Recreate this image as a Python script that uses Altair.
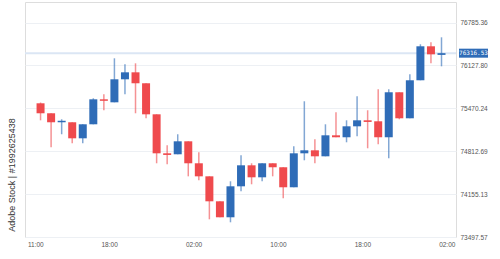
import altair as alt
import pandas as pd

# ---- data ----
open_ = [75548, 75395, 75257, 75257, 75011, 75226, 75609, 75563, 75916, 76023,
         75855, 75379, 74781, 74766, 74965, 74628, 74428, 74045, 73800, 74275,
         74597, 74413, 74628, 74567, 74260, 74781, 74827, 74735, 75057, 75027,
         75195, 75287, 75272, 75027, 75717, 75318, 75901, 76422, 76290]
high = [75560, 75395, 75303, 75257, 75226, 75625, 75686, 76238, 76146, 76161,
        75855, 75379, 74904, 75073, 74965, 74797, 74428, 74045, 74352, 74751,
        74628, 74628, 74628, 74567, 74889, 75579, 74996, 75226, 75410, 75287,
        75655, 75441, 75763, 75763, 75717, 75993, 76453, 76483, 76560]
low = [75287, 74873, 75073, 74935, 74935, 75226, 75441, 75563, 75686, 75395,
       75318, 74628, 74613, 74766, 74428, 74367, 73769, 73800, 73723, 74198,
       74306, 74352, 74428, 74091, 74260, 74674, 74628, 74735, 75027, 74950,
       75042, 74858, 74919, 74705, 75303, 75318, 75901, 76161, 76115]
close = [75395, 75257, 75280, 75011, 75226, 75609, 75586, 75916, 76023, 75855,
         75379, 74781, 74756, 74965, 74628, 74428, 74045, 73800, 74275, 74597,
         74413, 74628, 74567, 74260, 74781, 74827, 74735, 75057, 75027, 75195,
         75287, 75262, 75027, 75717, 75318, 75901, 76422, 76299, 76316.53]
times = pd.date_range("2024-01-01 11:30", periods=len(open_), freq="h")

y_ticks = [73497.57, 74155.13, 74812.69, 75470.24, 76127.80, 76785.36]
last_price = 76316.53
last_label = "76316.53"
side_text = "Adobe Stock | #1992625438"

BLUE = "#2f6cb7"
RED = "#ef4a4d"

df = pd.DataFrame({"time": times, "open": open_, "high": high,
                   "low": low, "close": close})

x_scale = alt.Scale(domain=[alt.DateTime(year=2024, month=1, date=1, hours=10, minutes=30),
                            alt.DateTime(year=2024, month=1, date=3, hours=2, minutes=24)])
y_scale = alt.Scale(domain=[73497.57, 77101.3], zero=False, nice=False)

x_ticks = [
    alt.DateTime(year=2024, month=1, date=1, hours=11),
    alt.DateTime(year=2024, month=1, date=1, hours=18),
    alt.DateTime(year=2024, month=1, date=2, hours=2),
    alt.DateTime(year=2024, month=1, date=2, hours=10),
    alt.DateTime(year=2024, month=1, date=2, hours=18),
    alt.DateTime(year=2024, month=1, date=3, hours=2),
]

color = alt.condition("datum.close >= datum.open", alt.value(BLUE), alt.value(RED))

x_enc = alt.X("time:T", scale=x_scale,
              axis=alt.Axis(values=x_ticks, format="%H:%M", title=None, grid=False,
                            domain=False, ticks=False, labelFontSize=6.5,
                            labelColor="#555", labelPadding=4,
                            labelFont="Liberation Sans"))

base = alt.Chart(df)

grid = base.mark_rule(opacity=0).encode(
    y=alt.Y("low:Q", scale=y_scale,
            axis=alt.Axis(orient="right", values=y_ticks, format=".2f", title=None,
                          domain=False, ticks=False, gridColor="#edf0f4",
                          labelFontSize=6.5, labelColor="#555", labelPadding=4,
                          labelFont="Liberation Sans")),
)

wicks = base.mark_rule(strokeWidth=1.5, opacity=0.6).encode(
    x=x_enc,
    y=alt.Y("low:Q", scale=y_scale),
    y2="high:Q",
    color=color,
)

bodies = base.mark_bar(size=8).encode(
    x=x_enc,
    y=alt.Y("open:Q", scale=y_scale),
    y2="close:Q",
    color=color,
)

price_df = pd.DataFrame({"price": [last_price], "label": [last_label]})
price_line = alt.Chart(price_df).mark_rule(color="#dbe6f4", strokeWidth=2).encode(
    y=alt.Y("price:Q", scale=y_scale),
    x=alt.value(0), x2=alt.value(431),
)
price_box = alt.Chart(price_df).mark_rect(color=BLUE, yOffset=-4.5, y2Offset=4.5).encode(
    y=alt.Y("price:Q", scale=y_scale), y2="price:Q",
    x=alt.value(434), x2=alt.value(463),
)
price_text = alt.Chart(price_df).mark_text(
    color="white", font="DejaVu Sans Mono", fontSize=6, align="center", baseline="middle"
).encode(
    y=alt.Y("price:Q", scale=y_scale), x=alt.value(448.5), text="label:N",
)

side_df = pd.DataFrame({"t": [side_text]})
side = alt.Chart(side_df).mark_text(
    angle=270, fontSize=9, color="#333", font="Liberation Sans",
    align="center", baseline="middle"
).encode(x=alt.value(-13), y=alt.value(173), text="t:N")

chart = alt.layer(grid, price_line, wicks, bodies, price_box, price_text, side).properties(
    width=431, height=235,
    autosize=alt.AutoSizeParams(type="none"),
    padding={"left": 25, "top": 2, "right": 44, "bottom": 22},
).configure_view(strokeWidth=0, stroke="transparent").configure(background="white")

chart.save("out.html", embed_options={"renderer": "svg", "actions": False})
